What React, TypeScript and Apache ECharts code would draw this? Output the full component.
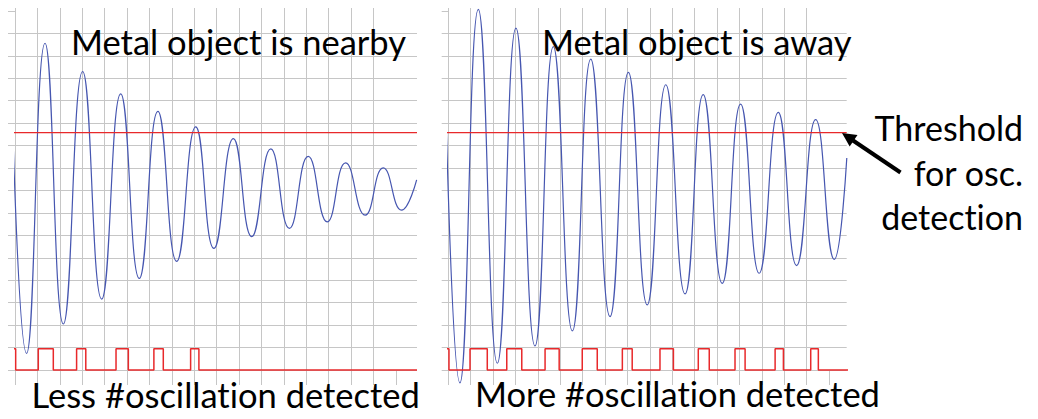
import React, { useEffect, useRef } from "react";
import * as echarts from "echarts";

// Units: x in grid divisions (time), y in grid divisions (signal level)
const leftWave: [number, number][] = [
  [-0.25, 16.04], [0.52, 0.74], [1.34, 14.56], [2.16, 2.05], [3.02, 13.3], [3.87, 3.16],
  [4.72, 12.3], [5.55, 4.08], [6.38, 11.52], [7.22, 4.84], [8.07, 10.83], [8.88, 5.42],
  [9.75, 10.31], [10.57, 5.94], [11.42, 9.85], [12.25, 6.31], [13.09, 9.52], [13.94, 6.6],
  [14.76, 9.23], [15.63, 6.9], [16.44, 9.01], [17.26, 7.12], [17.93, 8.47],
];
const rightWave: [number, number][] = [
  [-0.22, 16.04], [0.52, -0.57], [1.34, 16.07], [2.19, 0.3], [3.02, 15.23], [3.87, 1.07],
  [4.69, 14.41], [5.54, 1.74], [6.36, 13.85], [7.22, 2.38], [8.04, 13.26], [8.88, 2.9],
  [9.71, 12.71], [10.57, 3.39], [11.38, 12.27], [12.23, 3.86], [13.05, 11.85], [13.88, 4.31],
  [14.73, 11.48], [15.55, 4.65], [16.4, 11.16], [17.23, 4.93], [17.79, 9.45],
];
const thresholdLevel = 10.58;
// detection pulses: [rise, fall]
const leftPulses: [number, number][] = [
  [-0.31, 0.03], [1.04, 1.71], [2.75, 3.16], [4.51, 5.06], [6.2, 6.62], [7.84, 8.21],
];
const rightPulses: [number, number][] = [
  [-0.3, 0.03], [0.97, 1.74], [2.61, 3.28], [4.32, 4.95], [5.98, 6.65], [7.77, 8.21],
  [9.45, 10.05], [11.16, 11.65], [12.8, 13.25], [14.59, 14.96], [16.18, 16.52],
];
const pulseHigh = 0.95;
const pulseLow = 0;
const leftXMax = 17.946;
const rightXMax = 17.786;
const yMax = 16.13;
const leftTitle = "Metal object is nearby";
const rightTitle = "Metal object is away";
const leftCaption = "Less #oscillation detected";
const rightCaption = "More #oscillation detected";
const noteLines = ["Threshold", "for osc.", "detection"];

const gridColor = "#c6c6c6";
const blue = "#4656b0";
const red = "#e8292b";

function pulsePoints(pulses: [number, number][], end: number) {
  const pts: [number, number][] = [];
  pulses.forEach(([r, f], i) => {
    if (i === 0) pts.push([r, pulseHigh]);
    else {
      pts.push([r, pulseLow]);
      pts.push([r, pulseHigh]);
    }
    pts.push([f, pulseHigh]);
    pts.push([f, pulseLow]);
  });
  pts.push([end, pulseLow]);
  return pts;
}

function range(n: number) {
  return Array.from({ length: n }, (_, i) => i);
}

function xAxisFor(gridIndex: number, max: number) {
  return {
    type: "value",
    gridIndex,
    min: 0,
    max,
    interval: 1,
    axisLine: { show: false },
    axisLabel: { show: false },
    axisTick: {
      show: true,
      length: 15,
      customValues: range(Math.floor(max) + 1),
      lineStyle: { color: gridColor, width: 1 },
    },
    splitLine: { show: true, showMaxLine: false, lineStyle: { color: gridColor, width: 1 } },
  };
}

function yAxisFor(gridIndex: number, tickLen: number) {
  return {
    type: "value",
    gridIndex,
    min: 0,
    max: yMax,
    interval: 1,
    axisLine: { show: false },
    axisLabel: { show: false },
    axisTick: {
      show: true,
      length: tickLen,
      customValues: range(17),
      lineStyle: { color: gridColor, width: 1 },
    },
    splitLine: { show: true, showMaxLine: false, lineStyle: { color: gridColor, width: 1 } },
  };
}

function lineSeries(idx: number, data: [number, number][], color: string, width: number, z: number) {
  return {
    type: "line",
    xAxisIndex: idx,
    yAxisIndex: idx,
    data,
    showSymbol: false,
    symbol: "none",
    clip: false,
    z,
    lineStyle: { color, width },
  };
}

function textEl(text: string, x: number, y: number, align: string, size = 34.5) {
  return {
    type: "text",
    x,
    y,
    style: {
      text,
      font: `${size}px Lato`,
      fill: "#000",
      textAlign: align,
      textVerticalAlign: "middle",
      align,
      verticalAlign: "middle",
    },
    z: 100,
  };
}

export default function App() {
  const ref = useRef<HTMLDivElement>(null);
  useEffect(() => {
    if (!ref.current) return;
    const chart = echarts.init(ref.current, undefined, { renderer: "svg" });
    const waveL = { ...lineSeries(0, leftWave, blue, 1.2, 3), smooth: 0.5 };
    const waveR = { ...lineSeries(1, rightWave, blue, 1.2, 3), smooth: 0.5 };
    chart.setOption({
      animation: false,
      backgroundColor: "#ffffff",
      grid: [
        { left: 15, top: 8, width: 402, height: 362 },
        { left: 448.3, top: 8, width: 398.4, height: 362 },
      ],
      xAxis: [xAxisFor(0, leftXMax), xAxisFor(1, rightXMax)],
      yAxis: [yAxisFor(0, 7), yAxisFor(1, 6.6)],
      series: [
        lineSeries(0, [[-0.31, thresholdLevel], [leftXMax, thresholdLevel]], red, 1.2, 4),
        lineSeries(1, [[-0.3, thresholdLevel], [rightXMax, thresholdLevel]], red, 1.2, 4),
        waveL,
        waveR,
        lineSeries(0, pulsePoints(leftPulses, leftXMax), red, 1.5, 5),
        lineSeries(1, pulsePoints(rightPulses, 17.86), red, 1.5, 5),
      ],
      graphic: [
        textEl(leftTitle, 71, 41.5, "left"),
        textEl(rightTitle, 542, 41.5, "left"),
        textEl(leftCaption, 31.5, 394, "left"),
        textEl(rightCaption, 475, 393, "left"),
        textEl(noteLines[0], 1023, 127, "right", 34),
        textEl(noteLines[1], 1023, 172.5, "right", 34),
        textEl(noteLines[2], 1023, 216, "right", 34),
        {
          type: "line",
          shape: { x1: 900.5, y1: 172.5, x2: 853, y2: 140.5 },
          style: { stroke: "#000", lineWidth: 4 },
          z: 100,
        },
        {
          type: "polygon",
          shape: { points: [[842, 133], [857.5, 135], [849.7, 146.6]] },
          style: { fill: "#000" },
          z: 100,
        },
      ],
    });
    return () => chart.dispose();
  }, []);
  return (
    <>
      <style>{`svg text { font-variant-ligatures: none !important; font-feature-settings: "liga" 0, "clig" 0 !important; }`}</style>
      <div
        ref={ref}
        style={{ position: "absolute", left: 0, top: 0, width: 1038, height: 419 }}
      />
    </>
  );
}
